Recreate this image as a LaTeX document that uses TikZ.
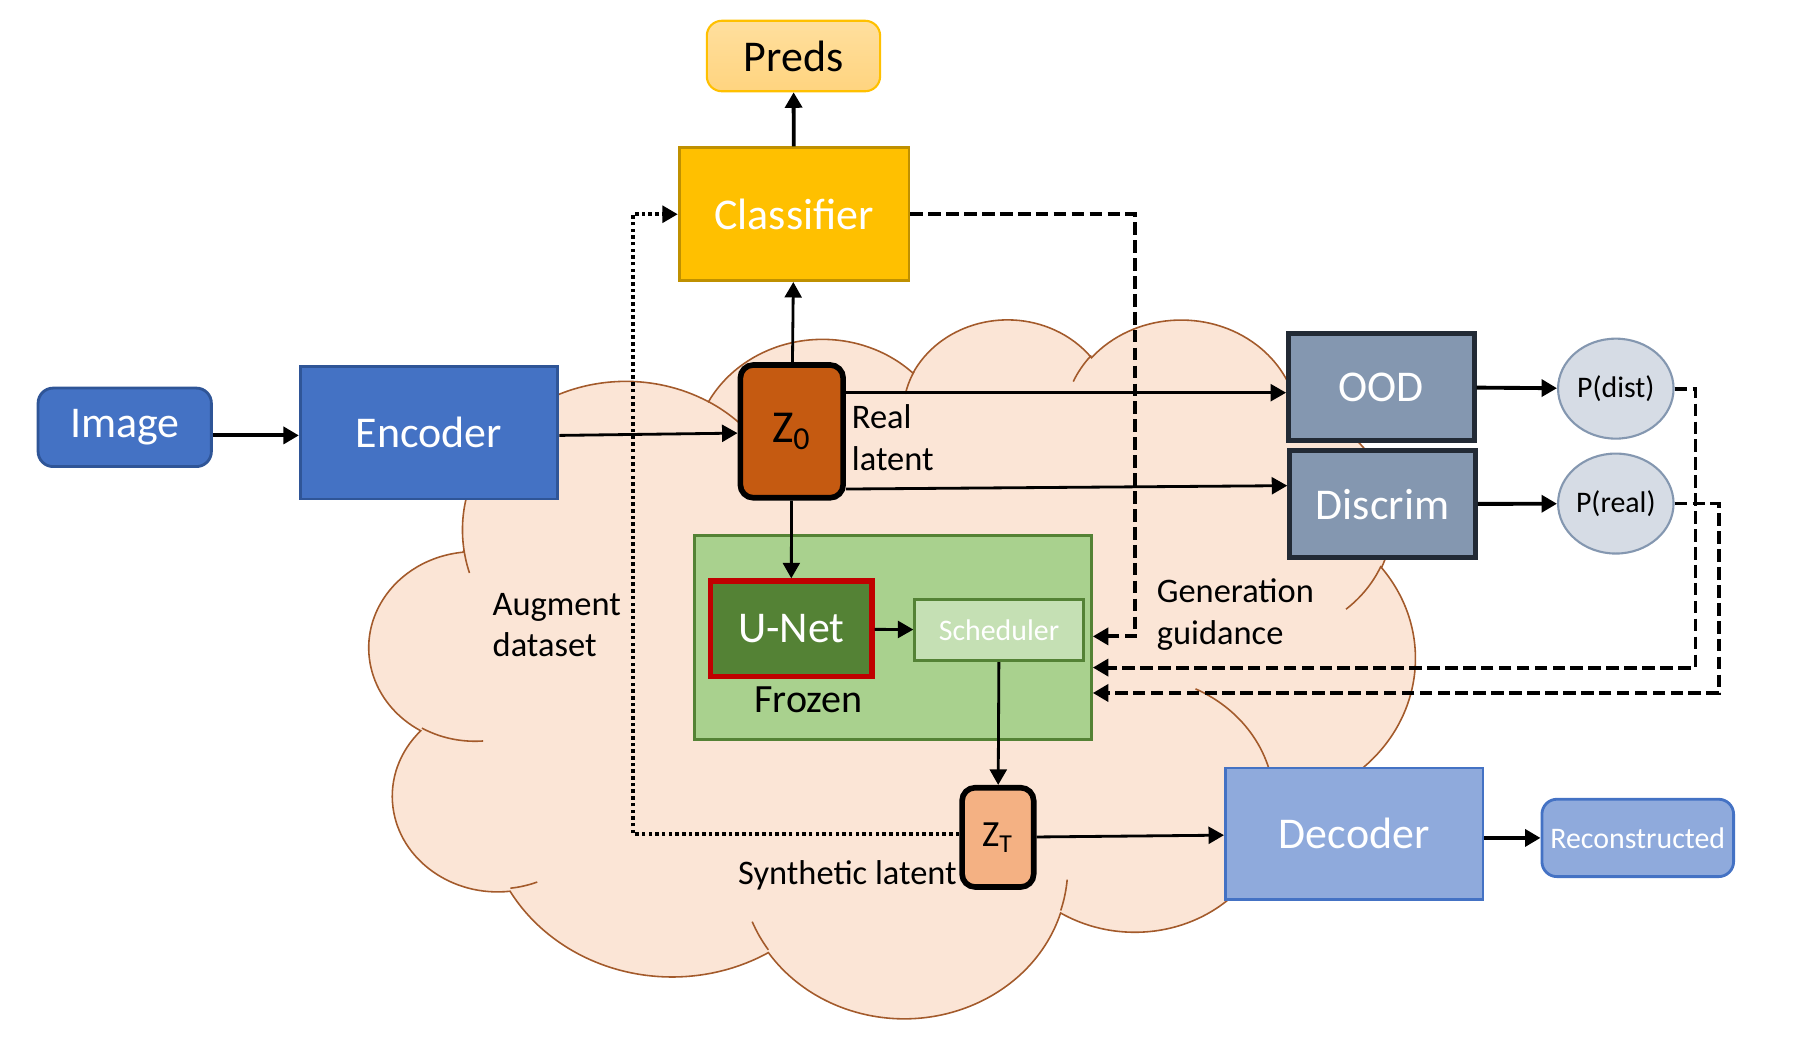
\documentclass[tikz,border=0pt]{standalone}
\usepackage{fontspec}
\setmainfont{Carlito}
\usetikzlibrary{arrows.meta,calc,shapes.geometric}

\definecolor{encblue}{HTML}{4472C4}
\definecolor{encedge}{HTML}{2F5597}
\definecolor{decblue}{HTML}{8FAADC}
\definecolor{decedge}{HTML}{4472C4}
\definecolor{predtop}{HTML}{FFDF9E}
\definecolor{predbot}{HTML}{FFD47F}
\definecolor{clsfill}{HTML}{FFC000}
\definecolor{clsedge}{HTML}{BF9000}
\definecolor{zzero}{HTML}{C55A11}
\definecolor{zlast}{HTML}{F4B183}
\definecolor{frozfill}{HTML}{A9D18E}
\definecolor{frozedge}{HTML}{548235}
\definecolor{unetfill}{HTML}{548235}
\definecolor{unetedge}{HTML}{C00000}
\definecolor{schedfill}{HTML}{C5E0B4}
\definecolor{slate}{HTML}{8497B0}
\definecolor{slateedge}{HTML}{222A35}
\definecolor{probfill}{HTML}{D6DCE5}
\definecolor{cloudfill}{HTML}{FBE5D6}
\definecolor{cloudline}{HTML}{A35A2B}

\begin{document}
\begin{tikzpicture}[x=0.01155cm,y=-0.01155cm,>={Triangle[length=4.4pt,width=4.8pt]},
    blk/.style={draw,inner sep=0pt,align=center},
    bigtext/.style={font=\fontsize{12.5}{15}\selectfont},
    smalltext/.style={font=\fontsize{8.5}{10}\selectfont},
    sidetext/.style={font=\fontsize{9.8}{11.8}\selectfont,align=left,inner sep=0pt},
    encstyle/.style={blk,bigtext,fill=encblue,draw=encedge,line width=0.8pt,text=white},
    decstyle/.style={blk,fill=decblue,draw=decedge,line width=0.8pt,text=white},
    slatebox/.style={blk,bigtext,fill=slate,draw=slateedge,line width=1.3pt,text=white,minimum width=1.86cm,minimum height=1.07cm},
    latentbox/.style={blk,draw=black,line width=1.6pt,rounded corners=0.13cm},
    probnode/.style={blk,ellipse,smalltext,fill=probfill,draw=slate,line width=0.6pt,minimum width=1.155cm,minimum height=1.0cm},
    wire/.style={->,line width=0.8pt},
    fbwire/.style={->,line width=1.1pt,dash pattern=on 3.6pt off 1.5pt},
    augwire/.style={->,line width=1pt,dash pattern=on 1pt off 0.9pt}
]
\useasboundingbox (0,0) rectangle (1568,916);

% the cloud behind everything
\begin{scope}[shift={(320,275)},x=0.024196cm,y=-0.016175cm]
    \path[fill=cloudfill,draw=cloudline,line width=0.45pt] (39.00,143.70)
        \foreach \rx/\ry/\st/\sw in {67.53/91.90/-190.4875/123.7805, 53.33/72.67/-144.1024/89.9452,
            43.65/59.45/-145.8079/99.7230, 48.57/65.95/-130.9861/117.2417, 53.33/72.73/-78.7089/109.0269,
            67.75/92.20/-46.2673/130.2690, 57.85/78.67/0.6250/114.0333, 67.52/92.15/22.4516/115.1726,
            77.20/105.43/66.2426/75.7110, 43.60/59.18/-274.9421/146.7356, 43.45/59.45/-246.8285/152.5189}
        { arc[x radius=\rx, y radius=\ry,
              start angle={atan2(\rx*sin(\st),\ry*cos(\st))},
              delta angle={mod(atan2(\rx*sin(\st+\sw),\ry*cos(\st+\sw))-atan2(\rx*sin(\st),\ry*cos(\st))+720,360)}] }
        -- cycle;
    \draw[cloudline,line width=0.45pt]
        \foreach \px/\py/\rx/\ry/\st/\sw in {46.93/261.77/43.45/59.45/86.7420/26.4295,
            69.28/348.99/43.60/59.18/73.6105/11.4475, 164.78/390.90/67.52/92.15/137.6242/14.0811,
            288.27/347.51/67.52/92.15/6.4533/15.9984, 341.29/229.54/57.85/78.67/-70.2924/70.9174,
            417.98/153.54/53.33/72.73/30.3180/27.7515, 383.24/54.26/48.57/65.95/-13.7443/14.8589,
            290.78/39.52/48.57/65.95/-149.1815/18.1954, 221.41/47.20/43.65/59.45/-163.4943/17.6864,
            140.00/51.92/67.53/91.90/-66.7070/12.3194, 41.27/157.89/67.53/91.90/157.6544/11.8582}
        { (\px,\py) arc[x radius=\rx, y radius=\ry,
              start angle={atan2(\rx*sin(\st),\ry*cos(\st))},
              delta angle={mod(atan2(\rx*sin(\st+\sw),\ry*cos(\st+\sw))-atan2(\rx*sin(\st),\ry*cos(\st))+720,360)}] };
\end{scope}

% blocks
\node[encstyle,rounded corners=0.15cm,minimum width=1.733cm,minimum height=0.785cm] (image) at (108,370) {Image};
\node[encstyle,minimum width=2.576cm,minimum height=1.328cm] (encoder) at (371.5,374.5) {Encoder};
\node[blk,bigtext,top color=predtop,bottom color=predbot,draw=clsfill,line width=0.6pt,rounded corners=0.15cm,minimum width=1.733cm,minimum height=0.705cm] (preds) at (687,48.5) {Preds};
\node[blk,bigtext,fill=clsfill,draw=clsedge,line width=0.8pt,text=white,minimum width=2.298cm,minimum height=1.328cm] (cls) at (687.5,185.5) {Classifier};
\node[latentbox,fill=zzero,minimum width=1.028cm,minimum height=1.328cm,font=\fontsize{13}{15}\selectfont] (z0) at (685.5,373.5) {Z\textsubscript{0}};
\node[blk,fill=frozfill,draw=frozedge,line width=0.8pt,minimum width=3.973cm,minimum height=2.033cm] (frozen) at (773,552) {};
\node[blk,bigtext,fill=unetfill,draw=unetedge,line width=1.5pt,text=white,minimum width=1.617cm,minimum height=0.959cm] (unet) at (685,544.5) {U-Net};
\node[blk,smalltext,fill=schedfill,draw=frozedge,line width=0.8pt,text=white,minimum width=1.686cm,minimum height=0.612cm] (sched) at (865,545.5) {Scheduler};
\node[font=\fontsize{11.4}{13}\selectfont,inner sep=0pt] (frozentxt) at (700,606) {Frozen};
\node[latentbox,fill=zlast,minimum width=0.716cm,minimum height=0.993cm,font=\fontsize{10.5}{12}\selectfont] (zt) at (864,725) {Z\textsubscript{T}};
\node[decstyle,bigtext,minimum width=2.576cm,minimum height=1.317cm] (decoder) at (1172.5,722) {Decoder};
\node[decstyle,smalltext,rounded corners=0.15cm,minimum width=1.917cm,minimum height=0.774cm] (recon) at (1418,725.5) {Reconstructed};
\node[slatebox] (ood) at (1196,335) {OOD};
\node[slatebox] (discrim) at (1197,436.5) {Discrim};
\node[probnode] (pdist) at (1399,336.5) {P(dist)};
\node[probnode] (preal) at (1399,436) {P(real)};

% side labels
\node[sidetext,anchor=west] (reallbl) at (737,379) {Real\\latent};
\node[sidetext,anchor=west] (auglbl) at (426,541) {Augment\\dataset};
\node[sidetext,anchor=west] (genlbl) at (1001,532) {Generation\\guidance};
\node[sidetext,anchor=east] (synlbl) at (829,758) {Synthetic latent};

% solid connectors
\draw[wire,line width=1.1pt] ($(image.east)+(0,7)$) -- ($(encoder.west)+(0,2.5)$);
\draw[wire] ($(encoder.east)+(0,2.5)$) -- ($(z0.west)+(0,1.5)$);
\draw[wire] (z0) -- (cls);
\draw[wire,line width=1.1pt] (cls) -- (preds);
\coordinate (oodin) at ($(ood.west)+(0,5)$);
\draw[wire] (z0.east |- oodin) -- (oodin);
\draw[wire] ($(z0.south east)+(0,-10)$) -- ($(discrim.west)+(0,-16)$);
\draw[wire] (z0) -- (unet);
\draw[wire] (unet) -- (sched);
\draw[wire] (sched) -- (zt);
\draw[wire] (zt) -- (decoder);
\draw[wire,line width=1.1pt] (decoder.east |- recon) -- (recon);
\draw[wire,line width=1.1pt] (ood) -- (pdist);
\draw[wire,line width=1.1pt] (discrim) -- (preal);

% guidance and augmentation loops
\coordinate (guide) at (983,551);
\draw[fbwire] (cls.east) -| (guide) -- (guide -| frozen.east);
\coordinate (fbdist) at (1468,578);
\draw[fbwire] (pdist.east) -| (fbdist) -- (fbdist -| frozen.east);
\coordinate (fbreal) at (1488,600);
\draw[fbwire] (preal.east) -| (fbreal) -- (fbreal -| frozen.east);
\coordinate (augcorner) at (548,722);
\draw[augwire] (zt.west |- augcorner) -- (augcorner) |- (cls.west);
\end{tikzpicture}
\end{document}
